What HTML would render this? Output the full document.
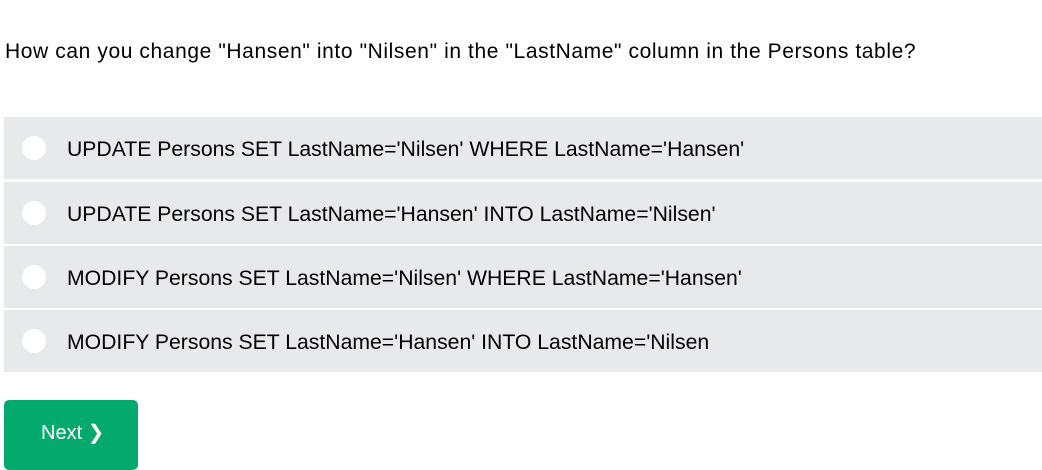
<!DOCTYPE html>
<html><head><style>
body{margin:0;width:1042px;height:455px;overflow:hidden;background:#fff;font-family:"Liberation Sans",sans-serif;color:#000;position:relative}
.q{position:absolute;left:5px;top:40px;font-size:21px;letter-spacing:0.6px;white-space:nowrap}
.row{position:absolute;left:4px;width:1038px;height:62px;background:#e7e9eb}
.c{position:absolute;left:18px;top:19px;width:24px;height:24px;border-radius:50%;background:#fff}
.t{position:absolute;left:63px;top:21px;font-size:21.2px;white-space:nowrap}
.btn{position:absolute;left:4px;top:400px;width:134px;height:70px;background:#04aa6d;border-radius:5px;color:#fff;font-size:20px}
.btn span{position:absolute;left:37px;top:20px}
</style></head><body>
<div class="q">How can you change "Hansen" into "Nilsen" in the "LastName" column in the Persons table?</div>
<div class="row" style="top:117px"><div class="c"></div><div class="t">UPDATE Persons SET LastName='Nilsen' WHERE LastName='Hansen'</div></div>
<div class="row" style="top:182px"><div class="c"></div><div class="t">UPDATE Persons SET LastName='Hansen' INTO LastName='Nilsen'</div></div>
<div class="row" style="top:246px"><div class="c"></div><div class="t">MODIFY Persons SET LastName='Nilsen' WHERE LastName='Hansen'</div></div>
<div class="row" style="top:310px"><div class="c"></div><div class="t">MODIFY Persons SET LastName='Hansen' INTO LastName='Nilsen</div></div>
<div class="btn"><span>Next &#10095;</span></div>
</body></html>
